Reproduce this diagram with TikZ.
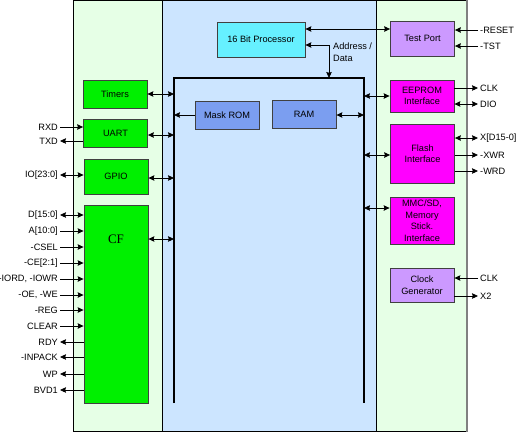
\documentclass[tikz,border=0pt]{standalone}
\usepackage{fontspec}
\usetikzlibrary{arrows.meta}
\setmainfont{Liberation Sans}
\newfontfamily\cffont{Liberation Serif}
\definecolor{pangreen}{HTML}{E6FFE6}
\definecolor{panblue}{HTML}{CCE5FF}
\definecolor{boxgreen}{HTML}{00F000}
\definecolor{boxcyan}{HTML}{66F0FF}
\definecolor{boxlilac}{HTML}{CC99FF}
\definecolor{boxmag}{HTML}{FF00FF}
\definecolor{boxmem}{HTML}{7B9EF0}
\tikzset{
  blk/.style={draw=black!75, line width=0.8pt, minimum width=64pt, align=center, inner sep=1pt},
  pin/.style={inner sep=2pt},
  wire/.style={line width=0.8pt},
  >={Stealth[length=6pt,width=5.5pt,inset=0.8pt]}
}
\begin{document}
\begin{tikzpicture}[x=1pt,y=-1pt,font=\fontsize{9.2}{11.5}\selectfont]
\useasboundingbox (0,0) rectangle (519,432);
%pannelli
\draw[fill=pangreen] (73,0.5) rectangle (162,431);
\draw[fill=panblue] (162,0.5) rectangle (376,431);
\draw[fill=pangreen] (376,0.5) rectangle (467,431);
\draw[black!50, line width=1.8pt] (467,0) -- (467,432);
%bus
\draw[line width=2.6pt, miter limit=10] (174,403) -- (174,78) -- (364,78) -- (364,403);
\coordinate (busL) at (174,78);
\coordinate (busR) at (364,78);
\coordinate (busT) at (329,78);
%blocchi
\node[blk, fill=boxcyan, minimum width=88pt, minimum height=35pt] (cpu) at (261,39.5) {16 Bit Processor};
\node[blk, fill=boxgreen, minimum height=28pt] (timers) at (115,94) {Timers};
\node[blk, fill=boxgreen, minimum height=28pt] (uart) at (115.5,133) {UART};
\node[blk, fill=boxgreen, minimum height=35pt] (gpio) at (116,176.5) {GPIO};
\node[blk, fill=boxgreen, minimum height=198pt] (cf) at (116,304) {};
\node[font=\cffont\fontsize{13}{15}\selectfont] (cftxt) at (116,239) {CF};
\node[blk, fill=boxmem, minimum height=28pt] (mrom) at (227,115) {Mask ROM};
\node[blk, fill=boxmem, minimum height=28pt] (ram) at (304,114) {RAM};
\node[blk, fill=boxlilac, minimum height=35pt] (test) at (422.5,38.5) {Test Port};
\node[blk, fill=boxmag, minimum height=32pt] (eeprom) at (422,96) {EEPROM\\Interface};
\node[blk, fill=boxmag, minimum height=59pt] (flash) at (422.5,153.5) {Flash\\Interface};
\node[blk, fill=boxmag, minimum height=47pt] (mmc) at (422,220.5) {MMC/SD,\\Memory\\Stick.\\Interface};
\node[blk, fill=boxlilac, minimum height=34pt] (clkgen) at (422,285) {Clock\\Generator};
%frecce cpu
\draw[wire, <->] ([yshift=10.5pt]cpu.east) -- ([yshift=10.5pt]cpu.east -| test.west);
\draw[wire, <->] ([yshift=-5.5pt]cpu.east) -| (busT);
\node[anchor=north west, align=left, inner sep=0pt] (addr) at (333,43) {Address /\\Data};
%frecce bus sinistra
\draw[wire, <->] (timers.east) -- (timers.east -| busL);
\draw[wire, <->] ([yshift=-2pt]uart.east) -- ([yshift=-2pt]uart.east -| busL);
\draw[wire, <->] ([yshift=-1.5pt]gpio.east) -- ([yshift=-1.5pt]gpio.east -| busL);
\draw[wire, <->] (cftxt -| cf.east) -- (cftxt -| busL);
\draw[wire, ->] (mrom.west) -- (mrom.west -| busL);
\draw[wire, <->] ([yshift=-1pt]ram.east) -- ([yshift=-1pt]ram.east -| busR);
%frecce bus destra
\draw[wire, <->] (eeprom.west) -- (eeprom.west -| busR);
\draw[wire, <->] ([yshift=-1.5pt]flash.west) -- ([yshift=-1.5pt]flash.west -| busR);
\draw[wire, <->] ([yshift=12.5pt]mmc.west) -- ([yshift=12.5pt]mmc.west -| busR);
%pin uart, gpio
\node[pin, anchor=east] (rxd) at (60,127) {RXD};
\node[pin, anchor=east] (txd) at (60,141) {TXD};
\node[pin, anchor=east] (io) at (60,175) {IO[23:0]};
\draw[wire, ->] (rxd.east) -- (rxd.east -| uart.west);
\draw[wire, <-] (txd.east) -- (txd.east -| uart.west);
\draw[wire, <->] (io.east) -- (io.east -| gpio.west);
%pin cf
\foreach \nm/\yy/\tip [count=\i] in {D[15:0]/215/<->, A[10:0]/231/->, -CSEL/247/->,
    -CE[2:1]/263/->, {-IORD, -IOWR}/279/->, {-OE, -WE}/295/->, -REG/310/->,
    CLEAR/326/->, RDY/342/<-, -INPACK/357/<-, WP/374/<-, BVD1/390/<-}{
  \node[pin, anchor=east] (cfp\i) at (60,\yy) {\nm};
  \draw[wire, \tip] (cfp\i.east) -- (cfp\i.east -| cf.west);
}
%pin destra
\node[pin, anchor=west] (rst) at (478,30) {-RESET};
\node[pin, anchor=west] (tst) at (478,46) {-TST};
\node[pin, anchor=west] (eclk) at (478,88) {CLK};
\node[pin, anchor=west] (dio) at (478,104) {DIO};
\node[pin, anchor=west] (xd) at (478,138) {X[D15-0]};
\node[pin, anchor=west] (xwr) at (478,155) {-XWR};
\node[pin, anchor=west] (wrd) at (478,171) {-WRD};
\node[pin, anchor=west] (cclk) at (478,278) {CLK};
\node[pin, anchor=west] (xtwo) at (478,296) {X2};
\draw[wire, ->] (rst.west) -- (rst.west -| test.east);
\draw[wire, ->] (tst.west) -- (tst.west -| test.east);
\draw[wire, <-] (eclk.west) -- (eclk.west -| eeprom.east);
\draw[wire, <->] (dio.west) -- (dio.west -| eeprom.east);
\draw[wire, <->] (xd.west) -- (xd.west -| flash.east);
\draw[wire, <-] (xwr.west) -- (xwr.west -| flash.east);
\draw[wire, <-] (wrd.west) -- (wrd.west -| flash.east);
\draw[wire, ->] (cclk.west) -- (cclk.west -| clkgen.east);
\draw[wire, <-] (xtwo.west) -- (xtwo.west -| clkgen.east);
\end{tikzpicture}
\end{document}
